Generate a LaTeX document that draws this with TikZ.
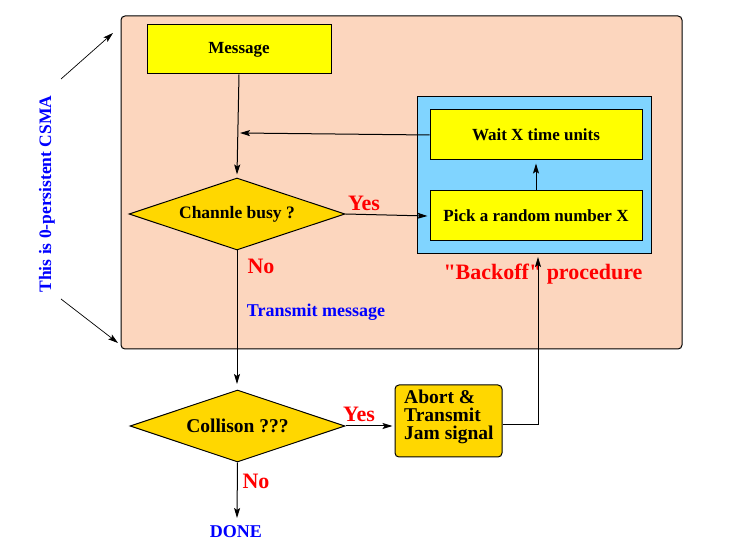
\documentclass[tikz,border=0pt]{standalone}
\usepackage{fontspec}
\setmainfont{Liberation Serif}
\usetikzlibrary{shapes.geometric,arrows.meta}
\definecolor{peach}{RGB}{252,214,190}
\definecolor{goldf}{RGB}{255,215,0}
\definecolor{skyb}{RGB}{128,212,255}
\definecolor{yel}{RGB}{255,255,0}
\tikzset{
  fig/.style={line width=1pt},
  arr/.style={fig,-{Stealth[length=10pt,width=6pt,inset=2pt]}},
  ybox/.style={fig,draw,fill=yel,inner sep=0pt,font=\bfseries\fontsize{17}{17}\selectfont},
  dia/.style={fig,draw,fill=goldf,diamond,aspect=3,inner sep=0pt,font=\bfseries\fontsize{18}{18}\selectfont},
  redlbl/.style={text=red,font=\bfseries\fontsize{22}{22}\selectfont,inner sep=0pt},
  bluelbl/.style={text=blue,font=\bfseries\fontsize{18}{18}\selectfont,inner sep=0pt},
}
\begin{document}
\begin{tikzpicture}[x=1pt,y=-1pt]
\useasboundingbox (0,0) rectangle (729,545);
% big peach area
\draw[fig,fill=peach,rounded corners=4pt] (121,16) rectangle (682,349);
% backoff blue area
\draw[fig,fill=skyb] (417,97) rectangle (651,254);
\node[ybox,minimum width=184pt,minimum height=49pt] (msg) at (239,49.5) {Message};
\node[ybox,minimum width=212pt,minimum height=50pt] (wait) at (536,135) {Wait X time units};
\node[ybox,minimum width=212pt,minimum height=50pt] (pick) at (536,216) {Pick a random number X};
\node[dia,minimum width=216pt,minimum height=72pt,font=\bfseries\fontsize{17.5}{17.5}\selectfont] (busy) at (237,214) {Channle busy ?};
\node[dia,minimum width=215pt,minimum height=72pt,font=\bfseries\fontsize{19.5}{19.5}\selectfont] (coll) at (237.5,426) {Collison ???};
\node[fig,draw,fill=goldf,rounded corners=4pt,minimum width=107pt,minimum height=72pt,inner sep=0pt] (abort) at (448.5,421) {};
\node[anchor=west,align=left,inner sep=0pt,font=\bfseries\fontsize{19.5}{18}\selectfont] (aborttxt) at (404,417) {Abort \&\\Transmit\\Jam signal};
% labels
\node[redlbl] (yes1) at (364,203) {Yes};
\node[redlbl] (no1) at (261,266) {No};
\node[redlbl] (yes2) at (359,414) {Yes};
\node[redlbl] (no2) at (256,481) {No};
\node[redlbl] (backoff) at (543,274) {\textquotedbl Backoff\textquotedbl{} procedure};
\node[bluelbl] (tx) at (316,312) {Transmit message};
\node[bluelbl] (done) at (236,532) {DONE};
\node[text=blue,font=\bfseries\fontsize{17.5}{17.5}\selectfont,rotate=90,inner sep=0pt] (csma) at (47,194) {This is 0-persistent CSMA};
% helper coordinates
\coordinate (fbtip) at (240,133);
\coordinate (colltip) at (237,384);
\coordinate (donetip) at (237,518);
\coordinate (bend) at (538,425);
\coordinate (botip) at (538,257);
\coordinate (a1s) at (61,79);
\coordinate (a1e) at (113,33);
\coordinate (a2s) at (61,299);
\coordinate (a2e) at (118,343);
% connectors
\draw[arr] (msg.south) -- ([yshift=3pt]busy.north);
\draw[arr] (wait.west) -- (fbtip);
\draw[arr] (busy.east) -- ([xshift=-2pt]pick.west);
\draw[arr] (pick.north) -- ([yshift=-3pt]wait.south);
\draw[arr] (busy.south) -- (colltip);
\draw[arr] (coll.east) -- ([xshift=-2pt]abort.west |- coll.east);
\draw[arr] (coll.south) -- (donetip);
\draw[arr] (abort.east |- bend) -- (bend) -- (botip);
\draw[arr,line width=0.7pt] (a1s) -- (a1e);
\draw[arr,line width=0.7pt] (a2s) -- (a2e);
\end{tikzpicture}
\end{document}
